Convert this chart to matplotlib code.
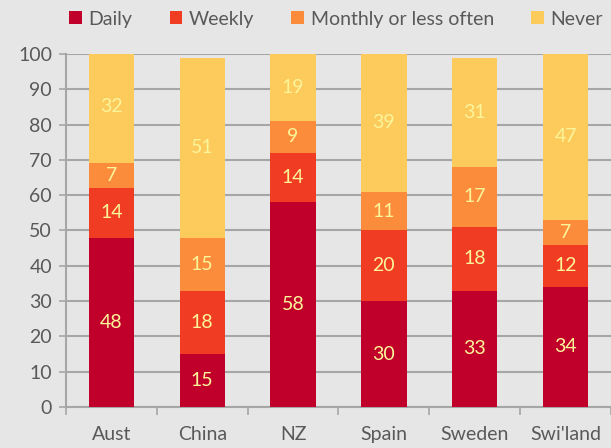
import matplotlib.pyplot as plt
import numpy as np

# Data
countries = ['Aust', 'China', 'NZ', 'Spain', 'Sweden', "Swi'land"]
series_names = ['Daily', 'Weekly', 'Monthly or less often', 'Never']
daily = [48, 15, 58, 30, 33, 34]
weekly = [14, 18, 14, 20, 18, 12]
monthly = [7, 15, 9, 11, 17, 7]
never = [32, 51, 19, 39, 31, 47]

colors = ['#c0002a', '#f03c23', '#fb8c3c', '#fdca5c']
bg = '#e6e6e6'
txt = '#595959'
label_col = '#fbf59a'

plt.rcParams['font.family'] = ['Lato', 'DejaVu Sans']

fig = plt.figure(figsize=(6.11, 4.48), dpi=100, facecolor=bg)
ax = fig.add_axes([0.108, 0.0915, 0.892, 0.788])
ax.set_facecolor(bg)

x = np.arange(len(countries))
bottom = np.zeros(len(countries))
for name, vals, col in zip(series_names, [daily, weekly, monthly, never], colors):
    vals = np.array(vals)
    ax.bar(x, vals, width=0.5, bottom=bottom, color=col, label=name, zorder=3)
    for xi, b, v in zip(x, bottom, vals):
        ax.text(xi, b + v / 2, str(v), ha='center', va='center',
                color=label_col, fontsize=14, zorder=4)
    bottom += vals

ax.set_ylim(0, 100)
ax.set_xlim(-0.5, len(countries) - 0.5)
ax.set_yticks(range(0, 101, 10))
ax.yaxis.grid(True, color='#a6a6a6', linewidth=1.5, zorder=0)
ax.tick_params(axis='y', colors='#a6a6a6', labelcolor=txt, labelsize=14,
               length=5, width=1.2, pad=5)

ax.set_xticks(x)
ax.set_xticklabels(countries)
ax.set_xticks(np.arange(-0.5, len(countries), 1), minor=True)
ax.tick_params(axis='x', which='major', length=0, labelcolor=txt, labelsize=14, pad=14)
ax.tick_params(axis='x', which='minor', length=6, width=1.2, colors='#a6a6a6')

for s in ['top', 'right']:
    ax.spines[s].set_visible(False)
for s in ['left', 'bottom']:
    ax.spines[s].set_color('#a6a6a6')
    ax.spines[s].set_linewidth(1.5)

fig.legend(loc='upper center', bbox_to_anchor=(0.55, 1.015), ncol=4, frameon=False,
           fontsize=14, labelcolor=txt, handlelength=0.65, handleheight=0.65,
           handletextpad=0.35, columnspacing=1.9)

fig.savefig('out.png', dpi=100, facecolor=bg)
